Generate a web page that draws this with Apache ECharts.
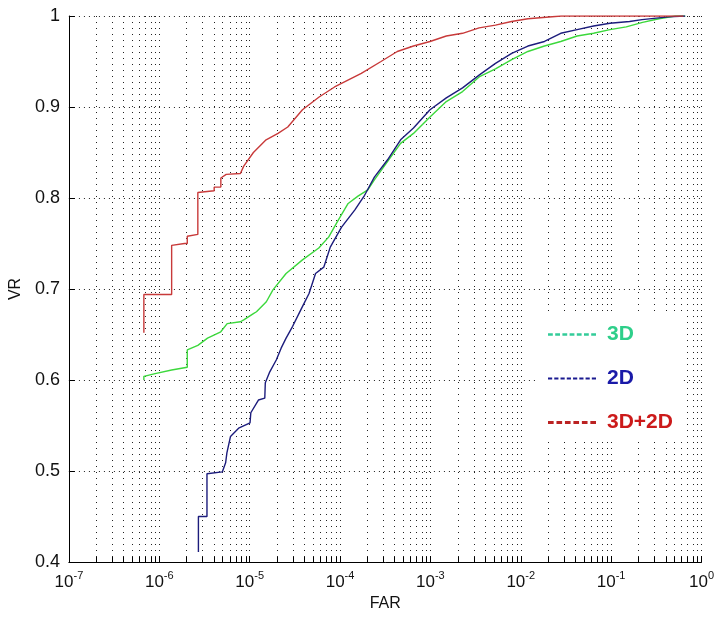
<!DOCTYPE html>
<html>
<head>
<meta charset="utf-8">
<title>VR vs FAR</title>
<script src="https://cdn.jsdelivr.net/npm/echarts@6/dist/echarts.min.js"></script>
<style>
  html, body { margin: 0; padding: 0; background: #fff; }
  #chart { width: 717px; height: 618px; }
</style>
</head>
<body>
<div id="chart"></div>
<script>
// values: FAR (x, log scale) and VR (y)
const far3d = [6.75e-7, 6.75e-7, 9.0e-7, 1.37e-6, 2.04e-6, 2.04e-6, 2.67e-6, 3.42e-6, 4.79e-6, 5.64e-6, 7.9e-6, 8.6e-6, 1.1e-5, 1.19e-5, 1.53e-5, 1.81e-5, 2.53e-5, 3.84e-5, 5.82e-5, 7.48e-5, 9.6e-5, 1.23e-4, 1.58e-4, 2.03e-4, 2.4e-4, 4.68e-4, 6.5e-4, 9.9e-4, 1.5e-3, 2.27e-3, 3.46e-3, 5.25e-3, 7.94e-3, 1.2e-2, 1.83e-2, 2.77e-2, 4.2e-2, 6.4e-2, 9.7e-2, 0.147, 0.223, 0.338, 0.513, 0.66]
const vr3d = [0.600, 0.604, 0.607, 0.611, 0.614, 0.633, 0.638, 0.646, 0.653, 0.662, 0.664, 0.666, 0.673, 0.675, 0.686, 0.699, 0.717, 0.732, 0.745, 0.757, 0.776, 0.794, 0.802, 0.809, 0.820, 0.860, 0.871, 0.889, 0.906, 0.917, 0.933, 0.942, 0.952, 0.961, 0.967, 0.972, 0.978, 0.981, 0.985, 0.988, 0.993, 0.997, 1.0, 1.0]

const far2d = [2.71e-6, 2.71e-6, 3.37e-6, 3.37e-6, 4.98e-6, 5.42e-6, 5.6e-6, 6.14e-6, 7.55e-6, 1.01e-5, 1.03e-5, 1.25e-5, 1.47e-5, 1.49e-5, 1.67e-5, 1.97e-5, 2.23e-5, 2.53e-5, 2.99e-5, 3.68e-5, 4.54e-5, 5.36e-5, 6.61e-5, 7.8e-5, 1.04e-4, 1.46e-4, 1.87e-4, 2.4e-4, 3.36e-4, 4.68e-4, 6.5e-4, 9.9e-4, 1.5e-3, 2.27e-3, 3.46e-3, 5.25e-3, 7.94e-3, 1.2e-2, 1.83e-2, 2.77e-2, 4.2e-2, 6.4e-2, 9.7e-2, 0.16, 0.22, 0.43, 0.66]
const vr2d = [0.411, 0.450, 0.450, 0.497, 0.499, 0.509, 0.520, 0.538, 0.547, 0.553, 0.564, 0.578, 0.580, 0.597, 0.609, 0.622, 0.635, 0.646, 0.659, 0.677, 0.695, 0.717, 0.724, 0.746, 0.768, 0.787, 0.803, 0.823, 0.842, 0.864, 0.877, 0.897, 0.910, 0.921, 0.935, 0.948, 0.959, 0.967, 0.972, 0.981, 0.985, 0.989, 0.992, 0.994, 0.996, 0.999, 1.0]

const farFused = [6.75e-7, 6.75e-7, 1.37e-6, 1.37e-6, 1.9e-6, 2.04e-6, 2.04e-6, 2.67e-6, 2.67e-6, 4.05e-6, 4.05e-6, 4.8e-6, 4.8e-6, 5.5e-6, 7.9e-6, 8.6e-6, 1.1e-5, 1.52e-5, 2.06e-5, 2.64e-5, 3.84e-5, 5.87e-5, 8.7e-5, 1.72e-4, 2.84e-4, 4.3e-4, 6.5e-4, 9.9e-4, 1.5e-3, 2.27e-3, 3.46e-3, 5.25e-3, 7.9e-3, 1.2e-2, 2.8e-2, 0.63]
const vrFused = [0.652, 0.694, 0.694, 0.748, 0.750, 0.750, 0.758, 0.760, 0.806, 0.808, 0.812, 0.812, 0.822, 0.826, 0.827, 0.835, 0.850, 0.864, 0.871, 0.878, 0.897, 0.911, 0.922, 0.937, 0.950, 0.961, 0.967, 0.972, 0.978, 0.981, 0.987, 0.990, 0.994, 0.997, 1.0, 1.0]

const seriesNames = ['3D', '2D', '3D+2D']
const xExponents = [-7, -6, -5, -4, -3, -2, -1, 0]
const minorMantissas = [2, 3, 4, 5, 6, 7, 8, 9]

function pairs(xs, ys) {
  return xs.map((x, i) => [x, ys[i]])
}

// matlab draws a dotted grid line at every 2..9 x 10^k
const minorTicks = []
xExponents.slice(0, -1).forEach(e => {
  minorMantissas.forEach(m => minorTicks.push([m * Math.pow(10, e), 0.4]))
})

// short dashes for the legend keys
function dashIcon(n) {
  let p = 'path://'
  for (let i = 0; i < n; i++) {
    p += 'M' + (i * 6) + ',0h4v2h-4z'
  }
  return p
}

function renderMinor(params, api) {
  const x = api.value(0)
  const top = api.coord([x, 1])
  const bot = api.coord([x, 0.4])
  const px = Math.round(top[0]) + 0.5
  return {
    type: 'group',
    children: [
      {
        type: 'line',
        shape: { x1: px, y1: top[1], x2: px, y2: bot[1] },
        style: { stroke: '#222', lineWidth: 1, lineDash: [1, 5] }
      },
      {
        type: 'line',
        shape: { x1: px, y1: bot[1], x2: px, y2: bot[1] - 5 },
        style: { stroke: '#000', lineWidth: 1 }
      }
    ]
  }
}

const chart = echarts.init(document.getElementById('chart'))
const font = "'Liberation Sans', Arial, sans-serif"

function legendText(color) {
  return { color: color, fontSize: 21, fontWeight: 'bold', fontFamily: font, padding: [0, 0, 0, 6] }
}

chart.setOption({
  animation: false,
  backgroundColor: '#fff',
  grid: {
    left: 62,
    right: 10,
    top: 16,
    bottom: 56
  },
  legend: {
    orient: 'vertical',
    left: 538,
    top: 316,
    itemWidth: 48,
    itemHeight: 3,
    itemGap: 23,
    backgroundColor: '#fff',
    padding: [8, 10],
    textStyle: legendText('#000'),
    data: [
      { name: seriesNames[0], icon: dashIcon(7), itemStyle: { color: '#33cc99' }, textStyle: legendText('#2ecf8a') },
      { name: seriesNames[1], icon: dashIcon(8), itemStyle: { color: '#1a1a90' }, textStyle: legendText('#1a1aa8') },
      { name: seriesNames[2], icon: dashIcon(6), itemStyle: { color: '#bb2222' }, textStyle: legendText('#cc1a1a') }
    ]
  },
  xAxis: {
    type: 'log',
    logBase: 10,
    min: 1e-7,
    max: 1,
    interval: 1,
    name: 'FAR',
    nameLocation: 'middle',
    nameGap: 32,
    nameTextStyle: { fontSize: 16, color: '#111', fontFamily: font },
    axisLine: { onZero: false, lineStyle: { color: '#000', width: 1 } },
    axisTick: { inside: true, length: 6, lineStyle: { color: '#000' } },
    axisLabel: {
      margin: 8,
      formatter: function(v) {
        return '{b|10}{s|' + Math.round(Math.log10(v)) + '}'
      },
      rich: {
        b: { fontSize: 17, color: '#111', fontFamily: font, verticalAlign: 'bottom' },
        s: { fontSize: 11, color: '#111', fontFamily: font, verticalAlign: 'bottom', padding: [0, 0, 10, 0] }
      }
    },
    splitLine: { show: true, lineStyle: { color: '#222', width: 1, type: [1, 5] } }
  },
  yAxis: {
    type: 'value',
    min: 0.4,
    max: 1,
    interval: 0.1,
    name: 'VR',
    nameLocation: 'middle',
    nameGap: 32,
    nameTextStyle: { fontSize: 16, color: '#111', fontFamily: font },
    axisLine: { show: true, lineStyle: { color: '#000', width: 1 } },
    axisTick: { show: true, inside: true, length: 6, lineStyle: { color: '#000' } },
    axisLabel: { fontSize: 18, color: '#111', fontFamily: font, margin: 9 },
    splitLine: { show: true, lineStyle: { color: '#222', width: 1, type: [1, 4] } }
  },
  series: [
    {
      type: 'custom',
      silent: true,
      z: 1,
      renderItem: renderMinor,
      data: minorTicks
    },
    {
      name: seriesNames[0],
      type: 'line',
      z: 3,
      showSymbol: false,
      data: pairs(far3d, vr3d),
      itemStyle: { color: '#3cd83c' },
      lineStyle: { color: '#3cd83c', width: 1.4 }
    },
    {
      name: seriesNames[1],
      type: 'line',
      z: 4,
      showSymbol: false,
      data: pairs(far2d, vr2d),
      itemStyle: { color: '#1c1c7c' },
      lineStyle: { color: '#1c1c7c', width: 1.4 }
    },
    {
      name: seriesNames[2],
      type: 'line',
      z: 5,
      showSymbol: false,
      data: pairs(farFused, vrFused),
      itemStyle: { color: '#c83a3a' },
      lineStyle: { color: '#c83a3a', width: 1.4 }
    }
  ]
})
</script>
</body>
</html>
